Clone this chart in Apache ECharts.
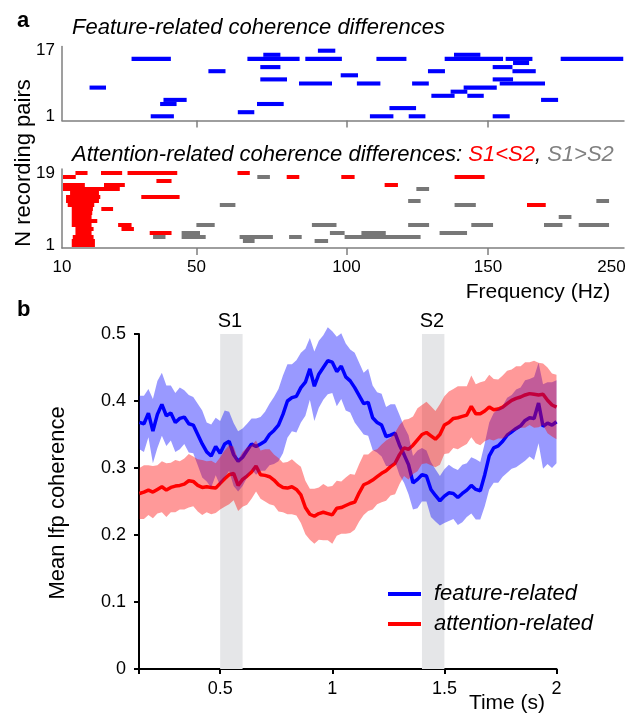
<!DOCTYPE html>
<html>
<head>
<meta charset="utf-8">
<script src="https://cdn.jsdelivr.net/npm/echarts@6/dist/echarts.min.js"></script>
<style>
html, body { margin: 0; padding: 0; background: #fff; }
#chart { width: 637px; height: 714px; }
</style>
</head>
<body>
<div id="chart"></div>
<script>
// ---- panel a: frequency ranges (Hz) with significant differences, per recording pair
// frequency axis is not linear in Hz: knots of the plotted frequency scale
const freqTicks = [10, 50, 100, 150, 250, 260];
const freqTickPos = [0, 134.4, 284.4, 426, 549.4, 562];
const freqLabels = [10, 50, 100, 150, 250];
const freqTickMarks = [50, 100, 150];

// [startHz, endHz, pair]
const featureSegs = [
  [90.5, 96.3, 17],
  [72.3, 78.0, 16], [138.0, 147.3, 16],
  [30.7, 42.4, 15], [67.0, 84.4, 15], [86.3, 98.5, 15], [110.6, 121.2, 15], [134.7, 162.2, 15], [164.3, 186.0, 15], [208.9, 259.4, 15],
  [170.3, 183.3, 14],
  [71.3, 78.0, 13], [153.8, 169.8, 13],
  [54.0, 59.7, 12], [128.8, 134.8, 12], [169.8, 188.7, 12],
  [98.1, 104.1, 11],
  [71.3, 80.2, 10], [153.8, 170.3, 10],
  [84.2, 95.2, 9], [103.7, 112.0, 9], [123.2, 129.1, 9], [159.5, 196.2, 9],
  [18.2, 23.1, 8], [141.4, 157.1, 8],
  [136.8, 142.7, 7],
  [130.0, 138.2, 6], [142.7, 148.5, 6],
  [40.2, 47.1, 5], [193.0, 206.8, 5],
  [39.2, 44.1, 4], [70.2, 79.1, 4],
  [115.2, 124.6, 3],
  [63.8, 69.3, 2],
  [36.4, 43.3, 1], [108.3, 116.6, 1], [122.0, 127.9, 1], [153.8, 167.6, 1]
];

// S1 < S2
const attnLessSegs = [
  [14.0, 17.6, 19], [21.6, 27.9, 19], [29.5, 44.3, 19], [63.7, 67.8, 19],
  [10.3, 14.1, 18], [80.1, 84.3, 18], [98.3, 102.9, 18], [138.2, 148.8, 18],
  [38.1, 42.6, 17],
  [10.3, 16.8, 16], [22.5, 28.7, 16], [113.5, 118.2, 16],
  [10.3, 19.9, 15], [19.7, 27.2, 15],
  [12.4, 21.0, 14],
  [11.2, 21.4, 13], [33.6, 45.0, 13],
  [11.2, 21.0, 12],
  [11.7, 19.6, 11], [181.6, 196.8, 11],
  [12.9, 19.2, 10], [21.7, 25.2, 10],
  [12.9, 19.0, 9],
  [12.9, 18.8, 8],
  [12.9, 20.5, 7],
  [12.9, 18.8, 6], [26.7, 30.7, 6],
  [14.0, 19.4, 5], [27.7, 31.4, 5],
  [14.0, 18.8, 4], [36.1, 42.6, 4],
  [13.2, 19.4, 3],
  [12.9, 19.8, 2],
  [12.9, 19.8, 1]
];

// S1 > S2
const attnMoreSegs = [
  [70.3, 74.5, 18],
  [124.7, 129.2, 15],
  [121.8, 126.2, 12], [237.8, 248.1, 12],
  [57.8, 63.0, 11], [138.2, 145.7, 11],
  [207.3, 217.6, 8],
  [50.0, 56.1, 6], [88.5, 96.7, 6], [121.8, 129.2, 6], [144.1, 154.1, 6], [195.4, 210.3, 6], [223.5, 248.1, 6],
  [45.6, 51.2, 4], [94.5, 99.4, 4], [105.3, 113.9, 4], [132.9, 142.6, 4],
  [37.1, 40.8, 3], [45.6, 53.1, 3], [64.4, 75.5, 3], [80.9, 85.1, 3], [99.4, 126.2, 3],
  [65.5, 69.4, 2], [89.4, 93.9, 2]
];

// ---- panel b: mean lfp coherence over time (s), sampled every 20 ms from 0.14 s
const tStart = 0.14, tStep = 0.02;
const featureMean = [
  .368, .366, .382, .355, .380, .395, .378, .382, .368, .374,
  .376, .366, .364, .350, .336, .324, .318, .332, .322, .336,
  .340, .320, .310, .316, .326, .336, .332, .336, .340, .350,
  .356, .364, .380, .400, .405, .407, .420, .428, .448, .422,
  .440, .450, .460, .458, .444, .452, .436, .430, .420, .408,
  .396, .398, .375, .368, .364, .347, .349, .352, .334, .320,
  .305, .278, .283, .290, .288, .268, .259, .251, .258, .263,
  .262, .256, .262, .267, .274, .268, .266, .290, .318, .330,
  .333, .340, .349, .354, .359, .363, .371, .375, .374, .397,
  .362, .367, .364, .369
];
const featureSem = [
  .040, .042, .036, .048, .050, .047, .045, .041, .044, .046,
  .040, .043, .042, .046, .050, .044, .047, .043, .048, .050,
  .044, .047, .045, .043, .040, .038, .042, .040, .044, .046,
  .050, .054, .058, .055, .050, .054, .052, .050, .046, .052,
  .050, .048, .050, .046, .052, .049, .050, .047, .052, .049,
  .046, .050, .048, .045, .047, .044, .046, .043, .045, .042,
  .044, .040, .043, .040, .038, .041, .039, .037, .040, .042,
  .038, .041, .043, .040, .042, .045, .043, .047, .050, .052,
  .055, .053, .056, .055, .058, .057, .060, .058, .062, .060,
  .063, .061, .064, .062
];
const attentionMean = [
  .262, .264, .267, .264, .268, .272, .267, .271, .273, .274,
  .276, .281, .280, .274, .271, .272, .271, .270, .277, .284,
  .290, .292, .274, .283, .288, .294, .303, .290, .289, .287,
  .282, .275, .271, .270, .272, .268, .260, .241, .231, .228,
  .232, .234, .232, .230, .240, .241, .244, .247, .249, .263,
  .275, .278, .282, .287, .292, .296, .302, .307, .320, .330,
  .328, .334, .342, .350, .353, .348, .343, .350, .364, .368,
  .374, .375, .377, .379, .392, .381, .381, .385, .391, .387,
  .388, .391, .396, .401, .404, .406, .409, .411, .410, .409,
  .410, .401, .394, .391
];
const attentionSem = [
  .038, .040, .037, .039, .036, .038, .040, .037, .039, .036,
  .038, .040, .037, .039, .041, .038, .040, .037, .039, .042,
  .044, .040, .038, .041, .043, .040, .038, .036, .039, .041,
  .038, .040, .037, .039, .041, .039, .042, .040, .038, .041,
  .039, .042, .040, .043, .041, .039, .042, .044, .041, .043,
  .045, .042, .044, .041, .043, .045, .043, .046, .044, .042,
  .045, .043, .047, .044, .046, .044, .042, .045, .043, .046,
  .044, .047, .045, .043, .046, .044, .047, .045, .048, .046,
  .044, .047, .049, .046, .048, .046, .049, .047, .050, .048,
  .046, .049, .047, .048
];
const stimWindows = [[0.5, 0.6], [1.4, 1.5]];
const stimNames = ['S1', 'S2'];
const coherenceTicks = [0, 0.1, 0.2, 0.3, 0.4, 0.5];
const timeTicks = [0.5, 1, 1.5, 2];

const times = featureMean.map((_, i) => +(tStart + i * tStep).toFixed(3));

const FONT = 'Liberation Sans, Arial, sans-serif';
const AXIS_GRAY = '#7f7f7f';

function freqPos(hz) {
  for (let i = 1; i < freqTicks.length; i++) {
    if (hz <= freqTicks[i]) {
      const f = (hz - freqTicks[i - 1]) / (freqTicks[i] - freqTicks[i - 1]);
      return freqTickPos[i - 1] + f * (freqTickPos[i] - freqTickPos[i - 1]);
    }
  }
  return freqTickPos[freqTickPos.length - 1];
}

function freqLabel(v) {
  const i = freqTickPos.findIndex(p => Math.abs(p - v) < 0.5);
  return i >= 0 ? String(freqTicks[i]) : '';
}

function renderSeg(params, api) {
  const p0 = api.coord([api.value(0), api.value(2)]);
  const p1 = api.coord([api.value(1), api.value(2)]);
  const h = api.size([0, 1])[1];
  return {
    type: 'rect',
    shape: { x: p0[0], y: p0[1] - h / 2, width: p1[0] - p0[0], height: h },
    style: { fill: api.visual('color') }
  };
}

function segSeries(segs, color, gi) {
  return {
    type: 'custom', xAxisIndex: gi, yAxisIndex: gi,
    renderItem: renderSeg,
    encode: { x: [0, 1], y: 2 },
    itemStyle: { color: color },
    silent: true,
    data: segs.map(s => [freqPos(s[0]), freqPos(s[1]), s[2]])
  };
}

function bandSeries(mean, sem, color) {
  return {
    type: 'custom', xAxisIndex: 2, yAxisIndex: 2, z: 3, silent: true,
    encode: { x: 0, y: 1 },
    data: [[times[0], mean[0]]],
    renderItem: (params, api) => {
      const up = times.map((t, i) => api.coord([t, mean[i] + sem[i]]));
      const lo = times.map((t, i) => api.coord([t, mean[i] - sem[i]])).reverse();
      return { type: 'polygon', shape: { points: up.concat(lo) }, style: { fill: color } };
    }
  };
}

function freqXAxis(gi, withLabels) {
  return {
    type: 'value', gridIndex: gi, min: 0, max: freqTickPos[freqTickPos.length - 1],
    axisLine: { lineStyle: { color: AXIS_GRAY, width: 1.5 } },
    axisTick: { show: true, length: 7, customValues: freqTickMarks.map(freqPos), lineStyle: { color: AXIS_GRAY, width: 1.5 } },
    axisLabel: {
      show: withLabels, customValues: freqLabels.map(freqPos), formatter: freqLabel,
      fontFamily: FONT, fontSize: 17, color: '#000', margin: 11
    },
    splitLine: { show: false }
  };
}

function pairYAxis(gi, min, max, top) {
  return {
    type: 'value', gridIndex: gi, min: min, max: max,
    axisLine: { show: true, lineStyle: { color: AXIS_GRAY, width: 1.5 } },
    axisTick: { show: false },
    axisLabel: { customValues: [1, top], fontFamily: FONT, fontSize: 17, color: '#000', margin: 7 },
    splitLine: { show: false }
  };
}

const chart = echarts.init(document.getElementById('chart'), null, { renderer: 'canvas' });

const option = {
  animation: false,
  backgroundColor: '#fff',
  grid: [
    { left: 62, top: 46.6, width: 562, height: 73.8 },
    { left: 62, top: 169, width: 562, height: 79 },
    { left: 139, top: 334, width: 417.5, height: 335 }
  ],
  xAxis: [
    freqXAxis(0, false),
    freqXAxis(1, true),
    {
      type: 'value', gridIndex: 2, min: 0.138, max: 2,
      axisLine: { lineStyle: { color: '#000', width: 2 } },
      axisTick: { show: true, length: 5, customValues: [0.138].concat(timeTicks), lineStyle: { color: '#000', width: 2 } },
      axisLabel: { customValues: timeTicks, fontFamily: FONT, fontSize: 18, color: '#000', margin: 11 },
      splitLine: { show: false }
    }
  ],
  yAxis: [
    pairYAxis(0, 0, 18, 17),
    pairYAxis(1, 0.25, 20, 19),
    {
      type: 'value', gridIndex: 2, min: 0, max: 0.5, interval: 0.1,
      axisLine: { show: true, lineStyle: { color: '#000', width: 2 } },
      axisTick: { show: true, length: 5, lineStyle: { color: '#000', width: 2 } },
      axisLabel: { customValues: coherenceTicks, fontFamily: FONT, fontSize: 18, color: '#000', margin: 13 },
      splitLine: { show: false }
    }
  ],
  legend: {
    data: ['feature-related', 'attention-related'],
    orient: 'vertical', left: 383, top: 578,
    icon: 'rect', itemWidth: 33, itemHeight: 4, itemGap: 8,
    selectedMode: false,
    textStyle: { fontFamily: FONT, fontSize: 22, fontStyle: 'italic', color: '#000', padding: [0, 0, 0, 8] }
  },
  series: [
    segSeries(featureSegs, '#0000ff', 0),
    segSeries(attnLessSegs, '#ff0000', 1),
    segSeries(attnMoreSegs, '#777777', 1),
    {
      type: 'custom', xAxisIndex: 2, yAxisIndex: 2, z: 1, silent: true,
      encode: { x: [0, 1] },
      data: stimWindows,
      renderItem: (params, api) => {
        const a = api.coord([api.value(0), 0.5]);
        const b = api.coord([api.value(1), 0]);
        return { type: 'rect', shape: { x: a[0], y: a[1], width: b[0] - a[0], height: b[1] - a[1] }, style: { fill: '#e5e6e8' } };
      }
    },
    {
      name: 'feature-related', type: 'line', xAxisIndex: 2, yAxisIndex: 2, z: 2,
      symbol: 'none', color: '#0000ff', lineStyle: { width: 3.5, color: '#0000ff' },
      data: times.map((t, i) => [t, featureMean[i]])
    },
    {
      name: 'attention-related', type: 'line', xAxisIndex: 2, yAxisIndex: 2, z: 2,
      symbol: 'none', color: '#ff0000', lineStyle: { width: 3.5, color: '#ff0000' },
      data: times.map((t, i) => [t, attentionMean[i]])
    },
    bandSeries(featureMean, featureSem, 'rgba(0,0,255,0.4)'),
    bandSeries(attentionMean, attentionSem, 'rgba(255,0,0,0.4)')
  ],
  graphic: [
    { type: 'text', x: 17, y: 21, style: { text: 'a', font: 'bold 22px ' + FONT, fill: '#000', verticalAlign: 'middle' } },
    { type: 'text', x: 72, y: 28, style: { text: 'Feature-related coherence differences', font: 'italic 22px ' + FONT, fill: '#000', verticalAlign: 'middle' } },
    {
      type: 'text', x: 72, y: 155,
      style: {
        text: '{k|Attention-related coherence differences: }{r|S1<S2}{k|, }{g|S1>S2}',
        font: 'italic 22px ' + FONT, verticalAlign: 'middle',
        rich: {
          k: { fill: '#000', fontStyle: 'italic', fontSize: 22, fontFamily: FONT },
          r: { fill: '#ff0000', fontStyle: 'italic', fontSize: 22, fontFamily: FONT },
          g: { fill: '#808080', fontStyle: 'italic', fontSize: 22, fontFamily: FONT }
        }
      }
    },
    { type: 'text', x: 24, y: 163, rotation: Math.PI / 2, style: { text: 'N recording pairs', font: '22px ' + FONT, fill: '#000', align: 'center', verticalAlign: 'middle' } },
    { type: 'text', x: 538, y: 292, style: { text: 'Frequency (Hz)', font: '21px ' + FONT, fill: '#000', align: 'center', verticalAlign: 'middle' } },
    { type: 'text', x: 17, y: 310, style: { text: 'b', font: 'bold 22px ' + FONT, fill: '#000', verticalAlign: 'middle' } },
    { type: 'text', x: 230, y: 321, style: { text: stimNames[0], font: '20px ' + FONT, fill: '#000', align: 'center', verticalAlign: 'middle' } },
    { type: 'text', x: 432, y: 321, style: { text: stimNames[1], font: '20px ' + FONT, fill: '#000', align: 'center', verticalAlign: 'middle' } },
    { type: 'text', x: 507, y: 703, style: { text: 'Time (s)', font: '21px ' + FONT, fill: '#000', align: 'center', verticalAlign: 'middle' } },
    { type: 'text', x: 58, y: 503, rotation: Math.PI / 2, style: { text: 'Mean lfp coherence', font: '22px ' + FONT, fill: '#000', align: 'center', verticalAlign: 'middle' } }
  ]
};

chart.setOption(option);
</script>
</body>
</html>
